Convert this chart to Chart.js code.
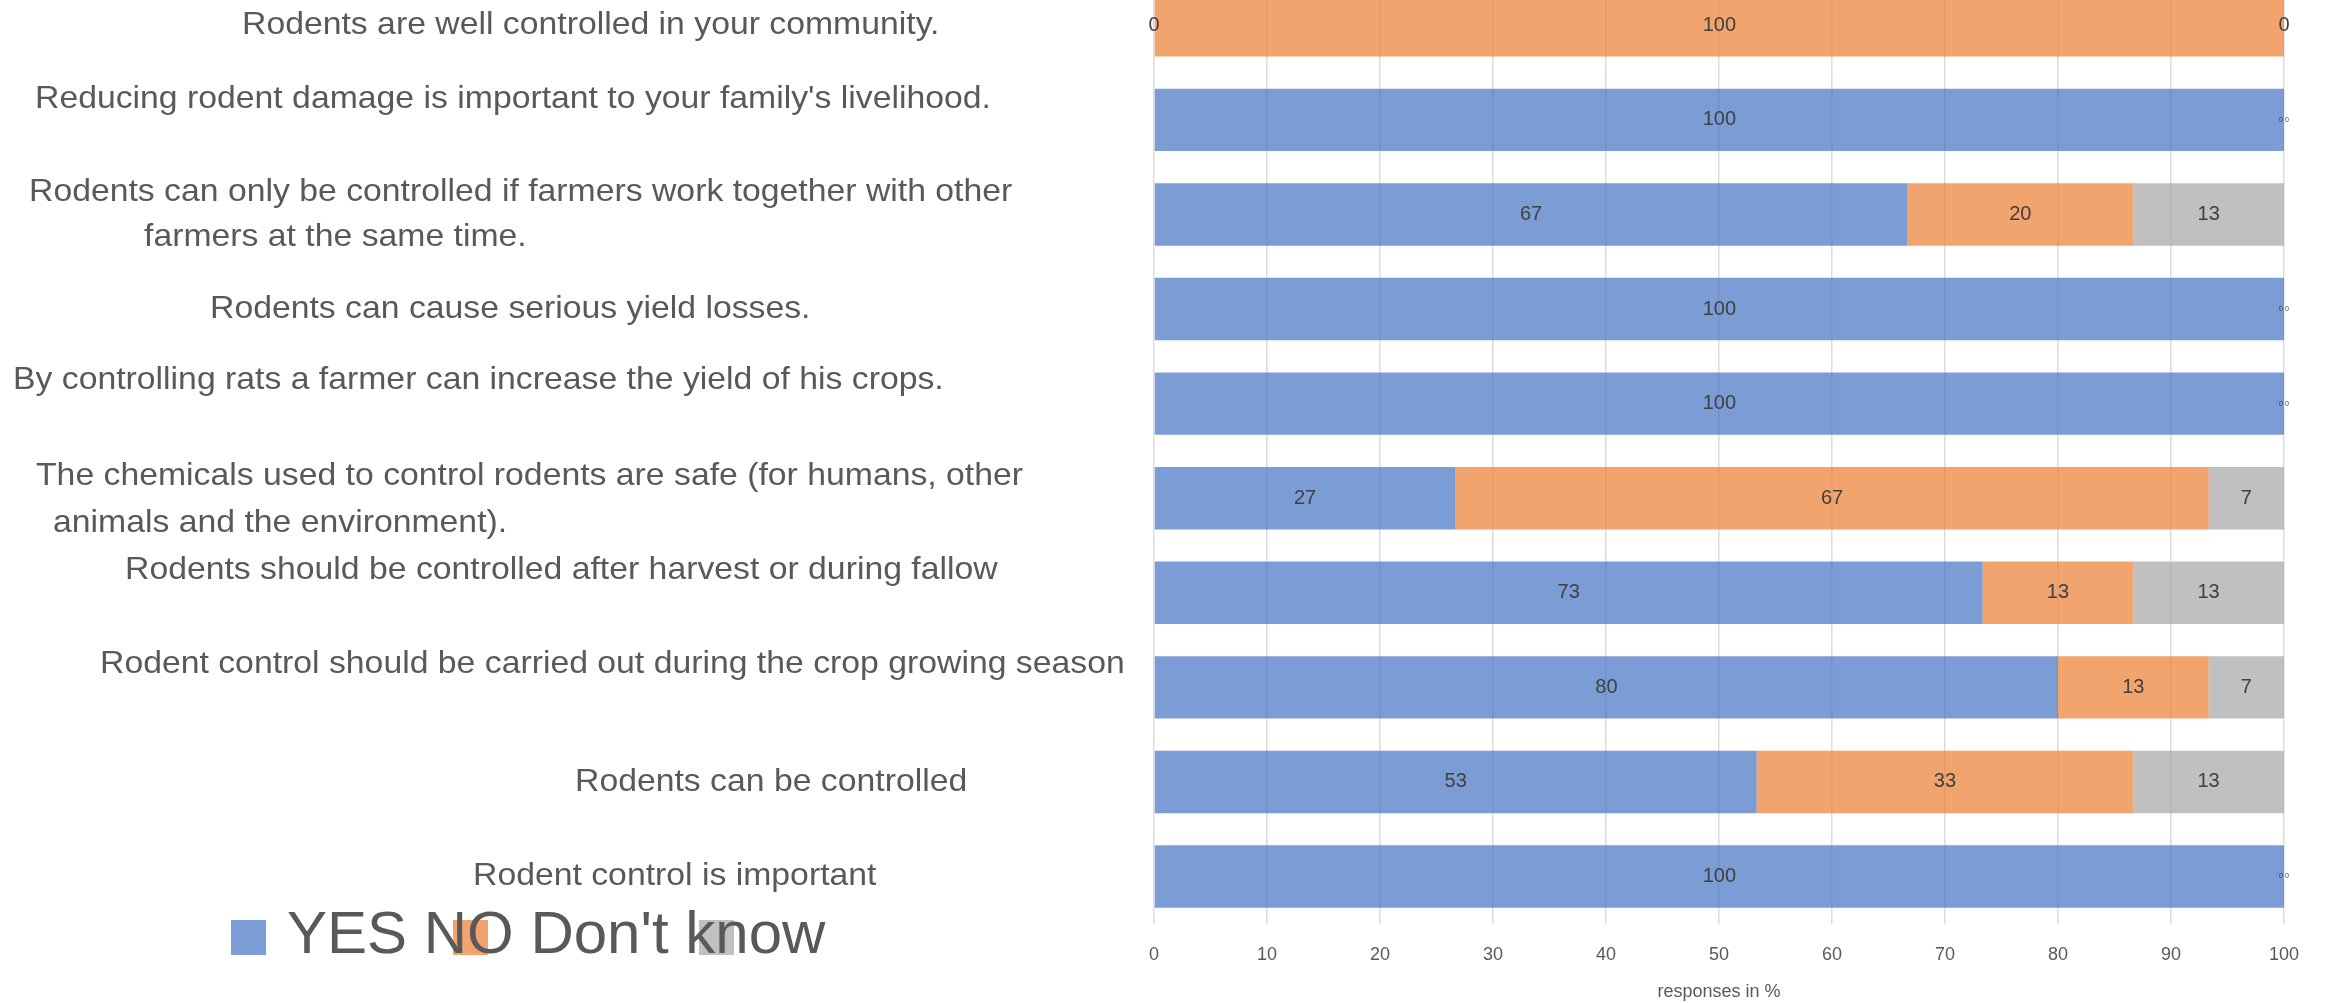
<!DOCTYPE html>
<html>
<head>
<meta charset="utf-8">
<script src="https://cdn.jsdelivr.net/npm/chart.js@4/dist/chart.umd.min.js"></script>
<style>
    html, body { margin: 0; padding: 0; background: #fff; overflow: hidden; }
    #wrap { position: absolute; left: 0; top: -22px; width: 2325px; height: 1029px; }
</style>
</head>
<body>
<div id="wrap"><canvas id="surveyChart" width="2325" height="1029"></canvas></div>
<script>
    'use strict';

    // statements, top to bottom
    var categories = [
        "Rodents are well controlled in your community.",
        "Reducing rodent damage is important to your family's livelihood.",
        ["Rodents can only be controlled if farmers work together with other", "farmers at the same time."],
        "Rodents can cause serious yield losses.",
        "By controlling rats a farmer can increase the yield of his crops.",
        ["The chemicals used to control rodents are safe (for humans, other", "animals and the environment)."],
        "Rodents should be controlled after harvest or during fallow",
        "Rodent control should be carried out during the crop growing season",
        "Rodents can be controlled",
        "Rodent control is important"
    ];

    var seriesNames = ['YES', 'NO', "Don't know"];
    var yesValues = [0, 100, 66.67, 100, 100, 26.67, 73.33, 80, 53.33, 100];
    var noValues = [100, 0, 20, 0, 0, 66.67, 13.33, 13.33, 33.33, 0];
    var dontKnowValues = [0, 0, 13.33, 0, 0, 6.67, 13.33, 6.67, 13.33, 0];
    var xTicks = [0, 10, 20, 30, 40, 50, 60, 70, 80, 90, 100];

    // layout of the statement text: [left x, offset from bar centre] per line
    var labelPlacement = [
        [[242, 0]],
        [[35, -21]],
        [[29, -22], [144, 23]],
        [[210, 0]],
        [[13, -23]],
        [[36, -22], [53, 25]],
        [[125, -23]],
        [[100, -23]],
        [[575, 0]],
        [[473, 0]]
    ];
    var legendBoxX = [231, 453, 699];
    var SHIFT = 22; // canvas is moved up by this much
    var FONT = '"Liberation Sans", Arial, sans-serif';

    var colors = ['rgba(68,114,196,0.7)', 'rgba(237,125,49,0.7)', 'rgba(165,165,165,0.7)'];

    var sideLabels = {
        id: 'sideLabels',
        afterDraw: function (chart) {
            var ctx = chart.ctx;
            var yScale = chart.scales.y;
            ctx.save();
            ctx.fillStyle = '#595959';
            ctx.font = '32px ' + FONT;
            ctx.textAlign = 'left';
            ctx.textBaseline = 'middle';
            categories.forEach(function (cat, i) {
                var lines = Array.isArray(cat) ? cat : [cat];
                var cy = yScale.getPixelForValue(i);
                lines.forEach(function (text, j) {
                    var pos = labelPlacement[i][j];
                    ctx.save();
                    ctx.translate(pos[0], cy + pos[1]);
                    ctx.scale(1.055, 1);
                    ctx.fillText(text, 0, 0);
                    ctx.restore();
                });
            });
            ctx.restore();
        }
    };

    var barValueLabels = {
        id: 'barValueLabels',
        afterDatasetsDraw: function (chart) {
            var ctx = chart.ctx;
            var zeros = {};
            ctx.save();
            ctx.fillStyle = '#404040';
            ctx.textAlign = 'center';
            ctx.textBaseline = 'middle';
            chart.data.datasets.forEach(function (ds, d) {
                var meta = chart.getDatasetMeta(d);
                meta.data.forEach(function (bar, i) {
                    var v = ds.data[i];
                    var p = bar.getProps(['x', 'y', 'base'], true);
                    if (v === 0) {
                        var key = i + '_' + Math.round(p.x);
                        (zeros[key] = zeros[key] || []).push(p);
                        return;
                    }
                    ctx.font = '20px ' + FONT;
                    ctx.fillText(Math.round(v), (p.x + p.base) / 2, p.y);
                });
            });
            // zero values: alone -> normal size, stacked at same spot -> tiny pair
            Object.keys(zeros).forEach(function (key) {
                var group = zeros[key];
                if (group.length === 1) {
                    ctx.font = '20px ' + FONT;
                    ctx.fillText('0', group[0].x, group[0].y);
                } else {
                    ctx.font = '7px ' + FONT;
                    group.forEach(function (p, k) {
                        ctx.fillText('0', p.x - 3 + k * 6, p.y);
                    });
                }
            });
            ctx.restore();
        }
    };

    var brokenLegend = {
        id: 'brokenLegend',
        afterDraw: function (chart) {
            var ctx = chart.ctx;
            ctx.save();
            chart.data.datasets.forEach(function (ds, d) {
                ctx.fillStyle = ds.backgroundColor;
                ctx.fillRect(legendBoxX[d], 920 + SHIFT, 35, 35);
            });
            ctx.fillStyle = '#595959';
            ctx.font = '60px ' + FONT;
            ctx.textAlign = 'left';
            ctx.textBaseline = 'alphabetic';
            ctx.fillText(seriesNames.join(' '), 287, 953 + SHIFT);
            ctx.restore();
        }
    };

    var chartElement = document.getElementById('surveyChart').getContext('2d');
    var chartObject = new Chart(chartElement, {
        type: 'bar',
        data: {
            labels: categories,
            datasets: [
                { label: seriesNames[0], data: yesValues, backgroundColor: colors[0] },
                { label: seriesNames[1], data: noValues, backgroundColor: colors[1] },
                { label: seriesNames[2], data: dontKnowValues, backgroundColor: colors[2] }
            ]
        },
        options: {
            indexAxis: 'y',
            responsive: false,
            animation: false,
            layout: { padding: { left: 1154, right: 41, top: 0, bottom: 0 } },
            datasets: { bar: { barPercentage: 0.66, categoryPercentage: 1, borderWidth: 0 } },
            plugins: {
                legend: { display: false },
                tooltip: { enabled: false }
            },
            scales: {
                x: {
                    stacked: true,
                    min: 0,
                    max: 100,
                    afterBuildTicks: function (axis) {
                        axis.ticks = xTicks.map(function (v) { return { value: v }; });
                    },
                    ticks: { color: '#595959', font: { family: FONT, size: 18 }, padding: 20 },
                    grid: { color: '#dcdcdc', lineWidth: 1.5, drawTicks: false },
                    border: { display: false },
                    title: {
                        display: true,
                        text: 'responses in %',
                        color: '#595959',
                        font: { family: FONT, size: 18 },
                        padding: { top: -4, bottom: 4 }
                    }
                },
                y: { stacked: true, display: false }
            }
        },
        plugins: [sideLabels, barValueLabels, brokenLegend]
    });
</script>
</body>
</html>
